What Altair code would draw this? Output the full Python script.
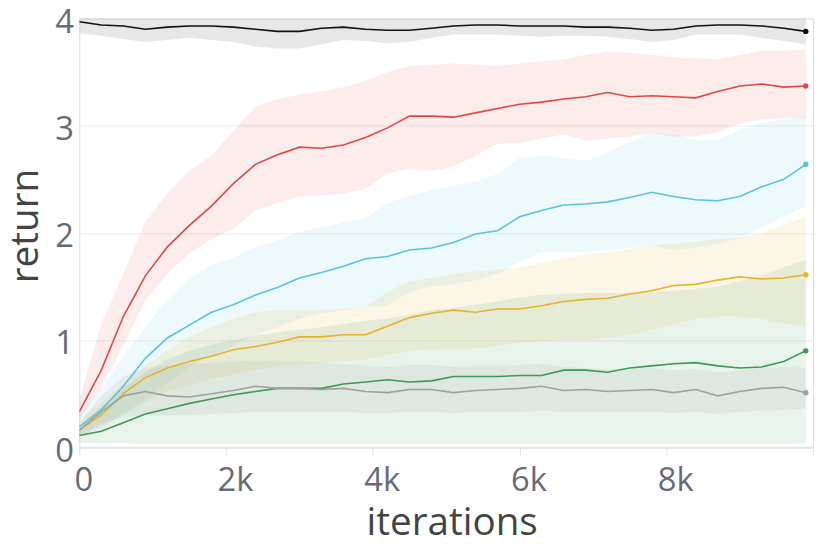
import altair as alt
import pandas as pd

iters = [0, 300, 600, 900, 1200, 1500, 1800, 2100, 2400, 2700, 3000, 3300, 3600, 3900,
         4200, 4500, 4800, 5100, 5400, 5700, 6000, 6300, 6600, 6900, 7200, 7500, 7800,
         8100, 8400, 8700, 9000, 9300, 9600, 9900]

series_names = ["black", "red", "cyan", "yellow", "green", "grey"]
series_colors = ["#111111", "#e04848", "#58c4dc", "#e6b32e", "#3c9a56", "#a0a0a0"]
band_opacity = [0.10, 0.12, 0.12, 0.11, 0.10, 0.13]

black_mean = [3.97, 3.94, 3.93, 3.90, 3.92, 3.93, 3.93, 3.92, 3.90, 3.88, 3.88, 3.91,
              3.92, 3.90, 3.89, 3.89, 3.91, 3.93, 3.94, 3.94, 3.93, 3.93, 3.93, 3.92,
              3.92, 3.91, 3.89, 3.90, 3.93, 3.94, 3.94, 3.93, 3.91, 3.88]
black_lo = [3.86, 3.84, 3.81, 3.78, 3.80, 3.82, 3.80, 3.78, 3.74, 3.72, 3.72, 3.76,
            3.80, 3.79, 3.77, 3.78, 3.82, 3.85, 3.85, 3.85, 3.84, 3.83, 3.84, 3.84,
            3.83, 3.81, 3.78, 3.80, 3.85, 3.85, 3.85, 3.82, 3.79, 3.76]
black_hi = [4.08, 4.06, 4.05, 4.04, 4.05, 4.05, 4.05, 4.05, 4.04, 4.03, 4.03, 4.05,
            4.05, 4.04, 4.04, 4.04, 4.05, 4.06, 4.06, 4.06, 4.05, 4.05, 4.05, 4.05,
            4.05, 4.04, 4.03, 4.04, 4.05, 4.06, 4.06, 4.05, 4.04, 4.02]

red_mean = [0.33, 0.72, 1.22, 1.60, 1.87, 2.07, 2.25, 2.46, 2.64, 2.73, 2.80, 2.79,
            2.82, 2.89, 2.98, 3.09, 3.09, 3.08, 3.12, 3.16, 3.20, 3.22, 3.25, 3.27,
            3.31, 3.27, 3.28, 3.27, 3.26, 3.32, 3.37, 3.39, 3.36, 3.37]
red_lo = [0.26, 0.55, 0.95, 1.37, 1.62, 1.81, 1.94, 2.04, 2.21, 2.28, 2.34, 2.35,
          2.37, 2.41, 2.55, 2.60, 2.58, 2.62, 2.72, 2.83, 2.84, 2.88, 2.92, 2.86,
          2.88, 2.90, 2.93, 2.90, 2.90, 2.94, 3.02, 3.06, 3.07, 3.07]
red_hi = [0.45, 1.15, 1.62, 2.10, 2.37, 2.58, 2.72, 2.95, 3.18, 3.25, 3.29, 3.32,
          3.36, 3.42, 3.50, 3.56, 3.57, 3.58, 3.57, 3.56, 3.58, 3.60, 3.62, 3.66,
          3.69, 3.68, 3.66, 3.64, 3.63, 3.62, 3.66, 3.70, 3.70, 3.71]

cyan_mean = [0.19, 0.35, 0.57, 0.83, 1.02, 1.14, 1.26, 1.33, 1.42, 1.49, 1.58, 1.63,
             1.69, 1.76, 1.78, 1.84, 1.86, 1.91, 1.99, 2.02, 2.15, 2.21, 2.26, 2.27,
             2.29, 2.33, 2.38, 2.34, 2.31, 2.30, 2.34, 2.43, 2.50, 2.64]
cyan_lo = [0.10, 0.18, 0.30, 0.45, 0.60, 0.75, 0.85, 0.95, 1.05, 1.12, 1.20, 1.25,
           1.28, 1.31, 1.32, 1.45, 1.50, 1.52, 1.56, 1.62, 1.73, 1.82, 1.82, 1.82,
           1.84, 1.86, 1.88, 1.84, 1.86, 1.90, 1.95, 2.05, 2.15, 2.25]
cyan_hi = [0.30, 0.55, 0.85, 1.12, 1.38, 1.58, 1.70, 1.77, 1.87, 1.93, 2.01, 2.05,
           2.10, 2.14, 2.28, 2.35, 2.40, 2.44, 2.48, 2.55, 2.70, 2.72, 2.70, 2.67,
           2.75, 2.85, 2.93, 2.92, 2.87, 2.87, 2.96, 3.03, 3.06, 3.08]

yellow_mean = [0.16, 0.30, 0.50, 0.65, 0.74, 0.80, 0.85, 0.91, 0.94, 0.98, 1.03, 1.03,
               1.05, 1.05, 1.13, 1.21, 1.25, 1.28, 1.26, 1.29, 1.29, 1.32, 1.36, 1.38,
               1.39, 1.43, 1.46, 1.51, 1.52, 1.56, 1.59, 1.57, 1.58, 1.61]
yellow_lo = [0.10, 0.20, 0.32, 0.42, 0.52, 0.58, 0.64, 0.68, 0.72, 0.76, 0.78, 0.79,
             0.80, 0.82, 0.86, 0.90, 0.91, 0.92, 0.92, 0.95, 0.98, 0.99, 1.00, 1.00,
             1.02, 1.05, 1.10, 1.15, 1.20, 1.22, 1.22, 1.20, 1.16, 1.13]
yellow_hi = [0.25, 0.42, 0.60, 0.76, 0.90, 1.03, 1.12, 1.20, 1.26, 1.28, 1.28, 1.28,
             1.29, 1.31, 1.45, 1.55, 1.58, 1.62, 1.64, 1.66, 1.68, 1.72, 1.76, 1.80,
             1.82, 1.85, 1.88, 1.90, 1.92, 1.94, 1.96, 2.00, 2.08, 2.15]

green_mean = [0.11, 0.15, 0.23, 0.31, 0.36, 0.41, 0.45, 0.49, 0.52, 0.55, 0.55, 0.55,
              0.59, 0.61, 0.63, 0.61, 0.62, 0.66, 0.66, 0.66, 0.67, 0.67, 0.72, 0.72,
              0.70, 0.74, 0.76, 0.78, 0.79, 0.76, 0.74, 0.75, 0.80, 0.90]
green_lo = [0.04, 0.04, 0.04, 0.03, 0.03, 0.03, 0.03, 0.03, 0.03, 0.03, 0.03, 0.03,
            0.03, 0.03, 0.03, 0.03, 0.03, 0.03, 0.03, 0.03, 0.03, 0.03, 0.03, 0.03,
            0.03, 0.03, 0.03, 0.03, 0.03, 0.03, 0.03, 0.03, 0.03, 0.04]
green_hi = [0.20, 0.38, 0.55, 0.70, 0.82, 0.90, 0.96, 1.00, 1.04, 1.07, 1.10, 1.12,
            1.15, 1.18, 1.20, 1.24, 1.28, 1.30, 1.33, 1.36, 1.40, 1.42, 1.43, 1.44,
            1.44, 1.44, 1.45, 1.46, 1.48, 1.50, 1.55, 1.60, 1.68, 1.75]

grey_mean = [0.16, 0.33, 0.48, 0.52, 0.48, 0.47, 0.50, 0.53, 0.57, 0.55, 0.55, 0.54,
             0.55, 0.52, 0.51, 0.54, 0.54, 0.51, 0.53, 0.54, 0.55, 0.57, 0.53, 0.54,
             0.52, 0.53, 0.54, 0.51, 0.54, 0.48, 0.52, 0.55, 0.56, 0.51]
grey_lo = [0.12, 0.22, 0.28, 0.30, 0.30, 0.30, 0.31, 0.32, 0.33, 0.33, 0.33, 0.33,
           0.33, 0.32, 0.32, 0.33, 0.33, 0.32, 0.33, 0.33, 0.33, 0.34, 0.33, 0.33,
           0.33, 0.33, 0.33, 0.32, 0.33, 0.31, 0.33, 0.34, 0.35, 0.36]
grey_hi = [0.22, 0.48, 0.66, 0.74, 0.76, 0.78, 0.79, 0.80, 0.81, 0.80, 0.80, 0.79,
           0.78, 0.76, 0.75, 0.77, 0.77, 0.75, 0.76, 0.76, 0.77, 0.78, 0.75, 0.74,
           0.73, 0.73, 0.74, 0.72, 0.73, 0.70, 0.72, 0.74, 0.75, 0.74]

means = [black_mean, red_mean, cyan_mean, yellow_mean, green_mean, grey_mean]
los = [black_lo, red_lo, cyan_lo, yellow_lo, green_lo, grey_lo]
his = [black_hi, red_hi, cyan_hi, yellow_hi, green_hi, grey_hi]

rows = []
for k, name in enumerate(series_names):
    for i, it in enumerate(iters):
        rows.append({"iter": it, "series": name, "order": k,
                     "mean": means[k][i], "lo": los[k][i], "hi": his[k][i]})
df = pd.DataFrame(rows)

FONT = "Open Sans"
LABEL_COLOR = "#6a6a76"
TITLE_COLOR = "#444444"
color_scale = alt.Scale(domain=series_names, range=series_colors)

x_enc = alt.X(
    "iter:Q", scale=alt.Scale(domain=[0, 10000], nice=False),
    axis=alt.Axis(
        title="iterations", values=[0, 2000, 4000, 6000, 8000, 10000],
        labelExpr="datum.value == 0 ? '0' : (datum.value == 10000 ? '' : datum.value/1000 + 'k')",
        grid=False, domainColor="#e3e3e3", domainWidth=2,
        tickColor="#e3e3e3", tickSize=8, tickWidth=1,
        labelFont=FONT, labelFontSize=33, labelColor=LABEL_COLOR,
        labelPadding=10, labelFlush=False,
        labelOffset={"condition": {"test": "datum.value == 0", "value": 4}, "value": 9},
        titleFont=FONT, titleFontSize=39, titleFontWeight="normal",
        titleColor=TITLE_COLOR, titleX=376, titleY=88,
        titleBaseline="alphabetic", titleAnchor="middle",
    ),
)
y_scale = alt.Scale(domain=[0, 4], nice=False)
y_axis = alt.Axis(
    title="return", values=[0, 1, 2, 3, 4], format="d",
    grid=True, gridColor="#ececec", gridWidth=1,
    domain=False, ticks=False,
    labelFont=FONT, labelFontSize=33, labelColor=LABEL_COLOR, labelPadding=6,
    labelOffset=4,
    titleFont=FONT, titleFontSize=39, titleFontWeight="normal",
    titleColor=TITLE_COLOR, titleX=-42, titleY=209,
    titleBaseline="alphabetic", titleAnchor="middle",
)

base = alt.Chart(df)

bands = base.mark_area(clip=True, interpolate="linear").encode(
    x=x_enc,
    y=alt.Y("lo:Q", scale=y_scale, axis=y_axis),
    y2="hi:Q",
    color=alt.Color("series:N", scale=color_scale, legend=None),
    opacity=alt.Opacity("series:N", scale=alt.Scale(domain=series_names, range=band_opacity),
                        legend=None),
    order="order:Q",
)

lines = base.mark_line(strokeWidth=1.6, clip=True).encode(
    x="iter:Q",
    y="mean:Q",
    color=alt.Color("series:N", scale=color_scale, legend=None),
)

dots = base.transform_filter(alt.datum.iter == 9900).mark_circle(size=30, opacity=1).encode(
    x="iter:Q",
    y="mean:Q",
    color=alt.Color("series:N", scale=color_scale, legend=None),
)

chart = alt.layer(bands, lines, dots).properties(
    width=741, height=433,
    autosize=alt.AutoSizeParams(type="none"),
    padding={"left": 72, "top": 8, "right": 9, "bottom": 96},
).configure_view(stroke=None).configure(background="white")

chart.save("out.html", embed_options={"renderer": "svg", "actions": False})
